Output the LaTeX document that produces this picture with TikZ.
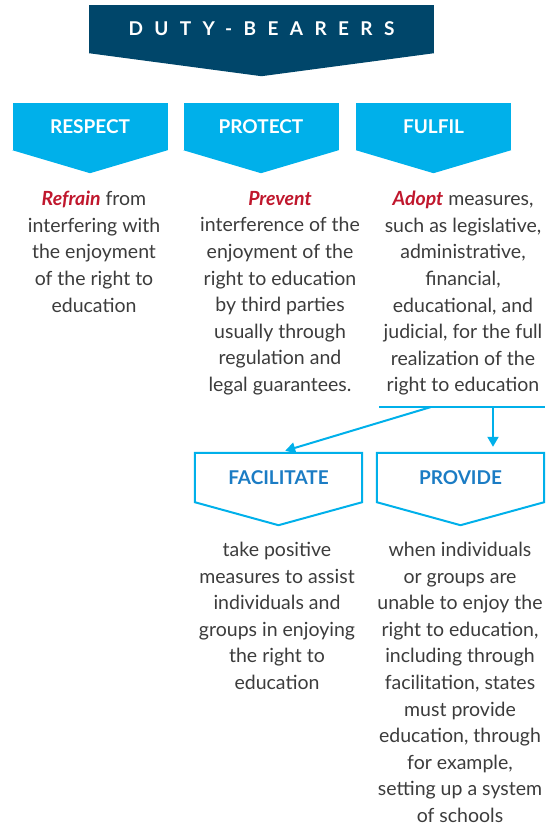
\documentclass[tikz,border=0pt]{standalone}
\usepackage{fontspec}
\setmainfont{Lato}
\newfontfamily\spacedfont{Lato}[LetterSpace=60]
\usetikzlibrary{positioning, arrows.meta}
\definecolor{darkteal}{HTML}{00466A}
\definecolor{skyblue}{HTML}{00B0EA}
\definecolor{midblue}{HTML}{1B7CC4}
\definecolor{deepred}{HTML}{C0172D}
\definecolor{bodygray}{HTML}{3C3C3C}
\newcommand{\keyword}[1]{{\color{deepred}\bfseries\itshape #1}}

\begin{document}
\begin{tikzpicture}[x=1pt, y=-1pt,
        every node/.style={align=center, inner sep=0pt},
        titlebox/.style={rectangle, fill=darkteal, minimum width=345pt, minimum height=48pt,
            text=white, font=\spacedfont\bfseries\fontsize{19}{19}\selectfont},
        headbox/.style={rectangle, fill=skyblue, minimum width=155pt, minimum height=47pt,
            text=white, font=\bfseries\fontsize{19}{19}\selectfont},
        subbox/.style={rectangle, minimum width=167pt, minimum height=49pt,
            text=midblue, font=\bfseries\fontsize{19}{19}\selectfont},
        body/.style={anchor=north, text=bodygray, font=\fontsize{19.5}{26.6}\selectfont},
        outline/.style={draw=skyblue, line width=2pt, line join=miter},
        arrow/.style={-{Triangle[length=10pt, width=11pt]}, draw=skyblue, line width=2pt}
    ]
    \useasboundingbox (0,0) rectangle (556,827);

    % Headers
    \node[titlebox] (duty) at (261.5,29) {DUTY-BEARERS};
    \node[headbox] (resp) at (90,126.5) {RESPECT};
    \node[headbox] (prot) at (261,126.5) {PROTECT};
    \node[headbox] (fulf) at (433.5,126.5) {FULFIL};
    \node[subbox] (facil) at (278.5,477.5) {FACILITATE};
    \node[subbox] (prov) at (460.5,477.5) {PROVIDE};

    % Pointers
    \fill[darkteal] (duty.south west) -- (duty.south east) -- ([yshift=-23pt]duty.south) -- cycle;
    \fill[skyblue] (resp.south west) -- (resp.south east) -- ([yshift=-23pt]resp.south) -- cycle;
    \fill[skyblue] (prot.south west) -- (prot.south east) -- ([yshift=-23pt]prot.south) -- cycle;
    \fill[skyblue] (fulf.south west) -- (fulf.south east) -- ([yshift=-23pt]fulf.south) -- cycle;
    \draw[outline] (facil.north west) -- (facil.north east) -- (facil.south east)
        -- ([yshift=-23pt]facil.south) -- (facil.south west) -- cycle;
    \draw[outline] (prov.north west) -- (prov.north east) -- (prov.south east)
        -- ([yshift=-23pt]prov.south) -- (prov.south west) -- cycle;

    % Descriptions
    \node[body] (resptext) at (94,191) {\keyword{Refrain} from\\interfering with\\the enjoyment\\of the right to\\education};
    \node[body] (prottext) at (280,191) {\keyword{Prevent}\\interference of the\\enjoyment of the\\right to education\\by third parties\\usually through\\regulation and\\legal guarantees.};
    \node[body] (fulftext) at (463,191) {\keyword{Adopt} measures,\\such as legislative,\\administrative,\\financial,\\educational, and\\judicial, for the full\\realization of the\\right to education};
    \node[body] (factext) at (277,542) {take positive\\measures to assist\\individuals and\\groups in enjoying\\the right to\\education};
    \node[body] (provtext) at (460,542) {when individuals\\or groups are\\unable to enjoy the\\right to education,\\including through\\facilitation, states\\must provide\\education, through\\for example,\\setting up a system\\of schools};

    % Fork under fulfil
    \coordinate (barleft) at (379,407);
    \coordinate (barright) at (545,407);
    \coordinate (forkfac) at (431,407);
    \coordinate (forkprov) at (493,407);
    \draw[skyblue, line width=2pt] (barleft) -- (barright);
    \draw[arrow, shorten >=7pt] (forkfac) -- (facil.north);
    \draw[arrow, shorten >=6pt] (forkprov) -- (forkprov |- prov.north);
\end{tikzpicture}
\end{document}
